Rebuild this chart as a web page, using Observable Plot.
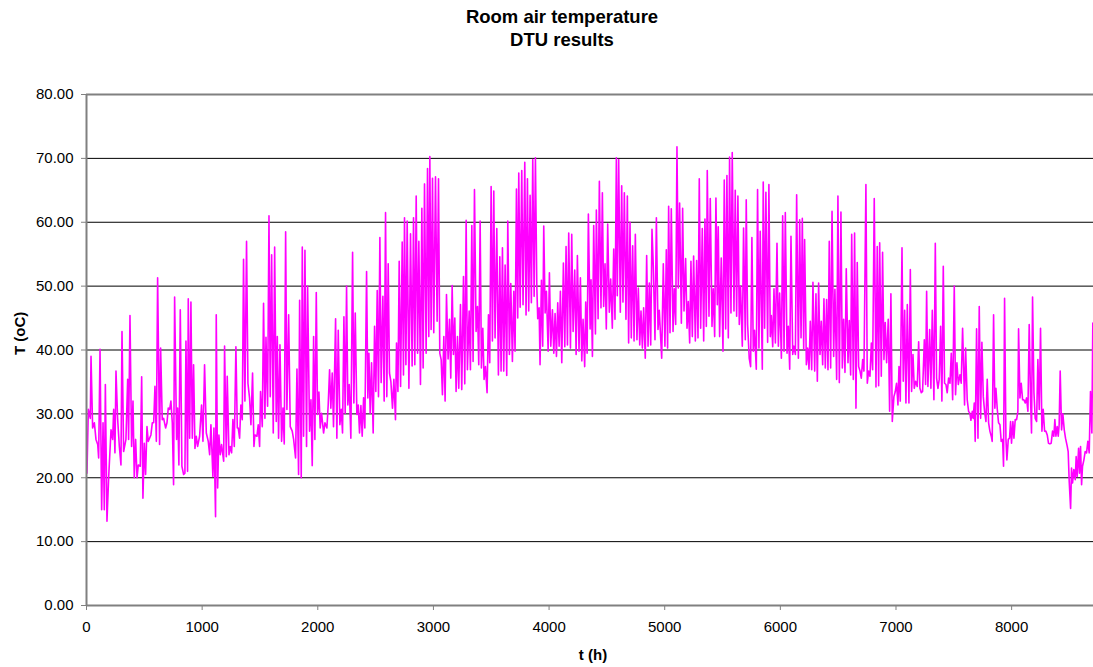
<!DOCTYPE html>
<html>
<head>
<meta charset="utf-8">
<script src="https://cdn.jsdelivr.net/npm/d3@7"></script>
<script src="https://cdn.jsdelivr.net/npm/@observablehq/plot@0.6"></script>
<style>
  html, body { margin: 0; padding: 0; background: #fff; }
  #wrap { position: relative; width: 1093px; height: 667px; overflow: hidden; font-family: "Liberation Sans", Arial, sans-serif; }
  #title { position: absolute; left: 0; top: 5px; width: 1124px; text-align: center; font-weight: bold; font-size: 18.5px; line-height: 23.4px; color: #000; }
  #chart { position: absolute; left: 0; top: 60px; }
</style>
</head>
<body>
<div id="wrap">
  <div id="title">Room air temperature<br>DTU results</div>
  <div id="chart"></div>
</div>
<script>
const titleLines = ["Room air temperature", "DTU results"];
const xLabel = "t (h)";
const yLabel = "T (oC)";
const xTicks = [0, 1000, 2000, 3000, 4000, 5000, 6000, 7000, 8000];
const yTicks = [0, 10, 20, 30, 40, 50, 60, 70, 80];
const gridValues = [10, 20, 30, 40, 50, 60, 70];

const hours = [
4,16,33,39,53,68,82,97,105,117,131,143,154,163,177,192,212,226,235,246,255,269,284,298,307,321,341,356,364,376,390,402,413,425,437,448,465,477,488,500,511,523,534,557,569,581,592,604,615,632,641,655,667,684,696,707,719,730,742,753,762,779,788,799,811,825,840,851,860,874,880,892,903,915,926,938,949,961,978,995,1007,1021,1036,1053,1065,1076,1093,1102,1116,1122,1134,1145,1157,1168,1186,1194,1209,1217,1232,1243,1255,1266,1278,1292,1304,1312,1324,1335,1347,1358,1370,1384,1396,1410,1422,1436,1448,1456,1474,1485,1497,1505,
1520,1531,1543,1552,1566,1578,1589,1601,1615,1627,1641,1650,1661,1673,1687,1699,1710,1722,1733,1748,1762,1779,1791,1808,1820,1834,1843,1857,1866,1877,1889,1903,1912,1929,1941,1952,1964,1975,1987,1998,2010,2021,2033,2050,2062,2079,2090,2102,2113,2125,2136,2154,2165,2177,2191,2203,2214,2226,2237,2249,2260,2272,2286,2301,2312,2324,2338,2350,2361,2373,2384,2396,2407,2422,2433,2442,2453,2465,2479,2491,2502,2514,2525,2537,2548,2563,2574,2586,2597,2609,2620,2632,2646,2658,2672,2681,2693,2704,2716,2730,2741,2750,2762,2773,2788,2802,2816,2828,2839,2851,2863,2874,2888,2900,2911,2923,2937,2949,2960,2969,
2980,2992,3003,3018,3032,3044,3055,3067,3078,3090,3101,3113,3127,3139,3150,3162,3173,3185,3196,3208,3219,3234,3245,3260,3271,3283,3294,3309,3320,3332,3343,3355,3369,3381,3392,3404,3415,3427,3438,3450,3464,3476,3487,3499,3510,3522,3533,3548,3562,3574,3585,3597,3608,3620,3634,3643,3657,3669,3683,3695,3706,3718,3729,3738,3750,3764,3775,3790,3801,3813,3824,3836,3847,3859,3871,3882,3894,3902,3914,3922,3934,3945,3954,3966,3977,3992,4003,4015,4029,4041,4052,4064,4075,4087,4098,4110,4124,4136,4147,4159,4170,4185,4196,4208,4222,4234,4245,4259,4271,4283,4294,4308,4317,4329,4340,4355,4363,4375,4386,4401,4409,4424,4435,
4449,4461,4472,4484,4495,4507,4521,4533,4547,4559,4570,4582,4590,4602,4616,4628,4639,4651,4665,4677,4688,4700,4711,4723,4735,4746,4760,4772,4784,4795,4807,4818,4832,4844,4856,4867,4879,4890,4902,4916,4928,4942,4953,4974,4988,5002,5014,5025,5034,5046,5057,5072,5083,5095,5106,5118,5129,5144,5155,5167,5181,5193,5204,5216,5227,5239,5250,5265,5276,5288,5299,5311,5325,5337,5348,5360,5368,5383,5394,5409,5420,5432,5443,5455,5463,5475,5489,5504,5515,5527,5538,5550,5561,5573,5584,5599,5610,5622,5633,5645,5656,5671,5682,5697,5705,5717,5731,5743,5754,5766,5777,5792,5803,5815,5826,5844,5852,5864,5875,5890,5901,5913,
5922,5934,5945,5957,5971,5983,5994,6009,6020,6032,6043,6058,6069,6081,6092,6107,6118,6130,6141,6156,6167,6179,6190,6202,6210,6225,6236,6248,6259,6271,6282,6297,6308,6320,6331,6343,6354,6366,6377,6389,6400,6412,6423,6435,6447,6461,6472,6487,6498,6510,6524,6536,6547,6559,6570,6585,6596,6608,6617,6631,6642,6654,6665,6677,6689,6700,6712,6723,6740,6752,6763,6775,6787,6798,6812,6827,6838,6850,6859,6873,6884,6896,6907,6919,6933,6945,6956,6968,6982,6994,7005,7017,7026,7037,7052,7063,7075,7086,7098,7112,7124,7135,7147,7158,7170,7184,7196,7207,7219,7230,7245,7256,7265,7276,7291,7302,7314,7328,7340,
7351,7363,7374,7386,7397,7409,7420,7432,7443,7455,7467,7478,7490,7504,7515,7527,7539,7553,7564,7576,7588,7593,7602,7616,7628,7639,7648,7660,7668,7677,7685,7697,7709,7720,7732,7743,7755,7766,7778,7789,7801,7812,7824,7832,7844,7855,7864,7876,7887,7899,7910,7922,7930,7939,7951,7959,7971,7982,7991,7999,8011,8020,8031,8043,8054,8060,8072,8083,8095,8106,8118,8129,8141,8152,8164,8172,8181,8193,8204,8216,8227,8239,8250,8262,8273,8285,8296,8308,8319,8331,8342,8354,8365,8374,8383,8394,8403,8411,8420,8432,8443,8455,8466,8481,8489,8498,8510,8518,8527,8538,8550,8558,8567,8579,8587,8596,8605,8613,8625,8636,8648,8659,8671,8682,8694,8702,8720
];

const temps = [
20.7,30.7,29.3,39.0,27.8,28.6,26.0,25.2,23.1,40.1,15.0,28.6,15.0,34.6,13.2,20.2,27.5,26.0,30.7,23.9,36.7,29.3,24.9,22.0,42.9,24.1,26.0,35.4,26.0,45.4,24.9,32.0,20.0,26.0,20.0,22.0,21.8,35.8,16.8,25.4,20.5,28.0,25.7,26.7,28.6,28.6,34.3,25.7,51.3,25.2,40.3,29.1,29.3,27.8,28.6,30.9,30.7,32.0,28.6,18.9,48.3,26.0,30.9,22.0,46.3,21.8,20.5,20.7,41.4,21.0,48.0,26.2,47.5,26.2,37.7,24.6,26.5,24.9,26.5,31.4,25.7,37.7,27.0,25.7,23.6,28.3,20.2,27.8,13.9,45.5,18.4,26.7,23.6,25.2,22.6,40.6,23.3,35.9,23.6,24.9,23.9,29.1,24.9,40.5,27.8,27.8,26.2,31.4,29.1,54.2,32.0,57.0,34.8,32.5,28.3,36.4,24.9,26.7,26.5,28.3,24.9,33.5,
28.0,47.3,29.3,42.0,31.2,61.0,32.7,54.9,27.0,56.1,28.8,42.1,26.2,40.8,25.7,30.9,25.3,58.5,30.7,45.5,28.0,27.3,26.0,23.1,37.0,20.5,47.8,20.0,56.1,26.5,55.6,24.9,50.0,27.3,32.2,21.9,42.1,26.0,49.0,29.9,33.4,27.8,30.1,27.0,28.6,27.8,31.4,36.9,30.9,36.4,28.0,44.9,26.2,43.1,28.3,30.7,27.0,45.2,30.1,50.0,31.4,34.6,26.2,55.3,31.7,45.8,29.9,31.4,27.0,31.3,26.5,32.5,27.8,52.3,32.5,39.5,30.1,38.0,27.0,43.7,33.5,49.3,32.7,57.6,34.9,48.4,32.0,61.5,32.7,53.5,36.4,35.1,30.9,35.4,29.1,41.1,33.5,53.9,34.3,56.9,36.1,60.7,37.7,60.2,34.0,58.2,37.5,60.7,37.7,64.1,39.5,57.0,34.6,62.2,37.2,66.0,39.5,68.4,42.1,70.3,
43.2,66.9,42.7,67.1,44.5,66.8,39.5,38.5,33.0,42.1,32.0,48.7,38.6,44.8,35.6,50.1,39.3,45.0,33.5,42.1,34.0,47.1,33.8,51.5,34.7,60.3,36.9,46.1,36.9,59.5,38.2,65.1,42.9,46.8,37.7,60.2,37.2,43.4,35.4,37.4,33.3,45.5,38.0,65.6,41.4,64.9,41.9,59.0,36.1,54.6,36.7,56.0,36.7,53.3,36.0,60.2,39.3,50.4,38.2,49.2,39.8,65.2,45.0,67.7,46.7,68.1,47.1,69.4,45.5,66.8,46.1,64.2,47.4,69.8,48.4,70.1,50.0,44.9,46.6,37.7,50.9,40.6,59.4,45.8,49.2,39.8,52.1,40.6,46.3,39.5,45.7,39.0,47.4,40.6,49.2,38.0,53.6,40.5,56.2,40.8,58.3,40.3,58.1,42.9,52.5,39.3,54.8,39.8,51.3,38.3,44.8,37.4,47.5,39.5,61.3,43.3,51.0,39.0,59.5,42.5,61.9,44.9,66.4,
46.6,64.6,46.8,53.5,43.3,59.7,45.9,51.1,43.4,55.8,44.8,70.1,48.5,69.8,45.9,65.7,47.5,64.6,44.8,64.1,41.1,60.0,41.9,56.3,41.4,58.1,41.6,49.7,40.8,46.1,40.3,46.6,38.7,54.8,40.6,50.5,40.8,58.9,52.8,41.6,60.7,43.2,46.2,38.7,53.5,40.6,55.7,40.3,62.5,42.7,62.1,42.9,49.6,44.0,71.8,49.7,63.0,44.2,62.2,46.1,54.3,43.4,47.6,41.1,53.9,42.1,54.7,41.4,54.0,41.9,66.8,43.4,59.0,41.4,60.5,43.7,68.1,45.3,63.7,43.7,49.6,42.1,63.8,47.1,59.3,42.1,54.4,39.8,66.6,43.3,67.3,41.9,70.2,45.8,70.9,46.1,65.0,45.3,64.1,44.0,50.0,40.6,59.1,41.6,63.5,44.0,38.7,37.4,57.6,39.8,43.1,37.0,65.1,40.3,58.6,37.0,66.3,43.4,64.7,41.2,65.9,42.1,
45.4,40.5,49.6,41.1,56.7,40.6,48.9,38.7,61.0,39.8,61.5,39.5,43.7,37.0,57.8,39.3,40.6,39.3,64.3,38.7,60.4,41.9,60.6,40.1,57.3,37.7,40.3,37.0,44.5,36.9,50.6,36.7,48.8,35.1,50.5,39.3,44.5,37.7,48.0,37.2,47.9,36.9,57.0,37.2,61.7,39.0,49.5,35.4,64.1,34.9,61.6,37.2,44.8,36.5,52.7,38.0,44.6,36.1,58.1,35.4,58.3,30.9,53.7,37.4,36.7,35.6,38.5,36.7,65.9,34.8,36.7,35.9,41.1,36.9,63.7,34.2,56.2,34.4,56.8,35.9,55.3,38.5,44.3,38.0,44.8,30.4,48.8,28.8,32.7,33.5,34.8,31.4,37.4,32.0,56.0,35.1,46.2,31.7,47.1,31.7,52.6,33.5,39.3,34.0,35.1,34.3,41.3,34.0,33.3,33.5,41.6,34.6,49.2,34.3,43.2,34.0,46.2,32.2,56.7,
35.6,34.0,35.4,43.7,32.0,53.1,34.8,34.6,33.3,35.6,34.8,39.5,32.2,50.0,33.0,38.0,34.6,36.1,34.8,43.4,35.1,31.4,40.3,32.2,30.4,30.1,29.0,30.4,29.3,31.7,25.7,43.3,26.2,46.8,29.3,41.2,32.7,30.4,28.8,35.4,28.6,27.3,26.5,25.7,45.5,30.9,34.0,30.7,28.6,28.3,25.7,26.0,21.8,48.1,26.0,22.8,26.0,26.2,28.8,25.4,28.8,26.2,29.1,29.1,30.4,43.3,32.5,34.8,32.2,32.2,31.7,32.5,30.4,44.0,32.2,27.0,48.3,33.3,29.3,28.8,38.5,30.7,43.4,27.3,30.7,27.3,27.3,26.7,25.4,25.3,25.4,27.3,26.5,29.1,26.5,28.0,26.5,28.3,36.7,27.5,30.0,27.5,26.2,24.9,24.1,19.4,15.2,21.5,19.2,21.3,19.7,23.3,20.2,24.6,20.7,24.9,18.9,21.8,22.8,24.1,23.9,25.7,23.9,33.5,27.0,44.2,30.0
];

const data = hours.map((h, i) => ({ t: h, T: temps[i] }));

const chart = Plot.plot({
  width: 1093,
  height: 607,
  marginTop: 34,
  marginBottom: 62,
  marginLeft: 86,
  marginRight: 0,
  style: { fontFamily: "'Liberation Sans', Arial, sans-serif", fontSize: "15px", color: "#000", background: "#fff", overflow: "visible" },
  x: { domain: [0, 8708] },
  y: { domain: [0, 80] },
  marks: [
    Plot.ruleY(gridValues, { stroke: "#000", strokeWidth: 1 }),
    Plot.ruleY([80], { stroke: "#808080", strokeWidth: 2 }),
    Plot.line(data, { x: "t", y: "T", stroke: "#ff00ff", strokeWidth: 1.6, clip: true }),
    Plot.ruleY([0], { stroke: "#808080", strokeWidth: 2 }),
    Plot.ruleX([0], { stroke: "#808080", strokeWidth: 2 }),
    Plot.axisY({ ticks: yTicks, tickFormat: d => d.toFixed(2), tickSize: 5, tickPadding: 8, label: null, stroke: "#808080", fill: "#000" }),
    Plot.axisX({ ticks: xTicks, tickFormat: d => String(d), tickSize: 5, tickPadding: 11, label: null, stroke: "#808080", fill: "#000" }),
    Plot.text([xLabel], { frameAnchor: "bottom", dy: 50, dx: 3, text: d => d, fontWeight: "bold", fontSize: 15, lineAnchor: "middle", fill: "#000" }),
    Plot.text([yLabel], { frameAnchor: "left", dx: -66, dy: 5, rotate: -90, text: d => d, fontWeight: "bold", fontSize: 15, lineAnchor: "middle", fill: "#000" })
  ]
});
document.getElementById("chart").appendChild(chart);
</script>
</body>
</html>
